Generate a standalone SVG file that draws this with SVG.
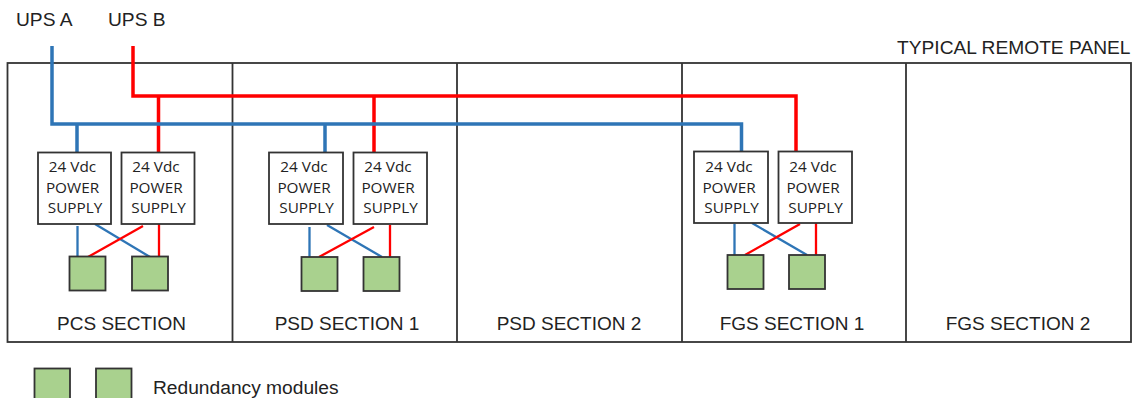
<svg xmlns="http://www.w3.org/2000/svg" width="1137" height="398" viewBox="0 0 1137 398">
<style>
text{font-family:"Liberation Sans",Arial,sans-serif;font-size:19.200px;fill:#222}
.s{text-anchor:middle;font-size:19px}
.p{font-family:"Open Sans","Noto Sans",sans-serif;font-size:15.300px;text-anchor:middle;fill:#222}
.box{fill:#fff;stroke:#333;stroke-width:1.800}
.mod{fill:#a9d18e;stroke:#333;stroke-width:1.800}
.panel{fill:none;stroke:#333;stroke-width:1.800}
.b{fill:none;stroke:#2e75b6}
.r{fill:none;stroke:#f00}
.t{stroke-width:3.500}
.n{stroke-width:2.300}
</style>
<rect width="1137" height="398" fill="#fff"/>
<g id="panel">
<rect class="panel" x="7.500" y="63" width="1123.500" height="279"/>
<path class="panel" d="M232.500 63V342M457 63V342M682 63V342M906 63V342"/>
<text x="1130.500" y="54" text-anchor="end">TYPICAL REMOTE PANEL</text>
<text class="s" x="121.500" y="330">PCS SECTION</text>
<text class="s" x="347" y="330">PSD SECTION 1</text>
<text class="s" x="569" y="330">PSD SECTION 2</text>
<text class="s" x="792" y="330">FGS SECTION 1</text>
<text class="s" x="1018" y="330">FGS SECTION 2</text>
</g>
<g id="ups-a"><text x="16" y="26">UPS A</text></g>
<g id="ups-b"><text x="108" y="26">UPS B</text></g>
<g id="connectors">
<path class="r t" d="M133 46V96H796V152M158.500 96V152M374 96V152"/>
<path class="b t" d="M52 46V124H741.500V152M77 124V152M325 124V152"/>
<path class="b n" d="M77.500 226V257M95 224L150 257"/>
<path class="r n" d="M159 224V257M143 226L88 257"/>
<path class="b n" d="M309.500 227V257M327 225L382 257"/>
<path class="r n" d="M390 225V257M374 227L319 257"/>
<path class="b n" d="M734.500 224V255M752 223L807 255"/>
<path class="r n" d="M816 223V255M800 224L745 255"/>
</g>
<g id="ps-1"><rect class="box" x="38" y="152.500" width="73" height="71.500"/><text class="p" x="72.500" y="172">24 Vdc</text><text class="p" x="72.500" y="193">POWER</text><text class="p" x="75" y="213">SUPPLY</text></g>
<g id="ps-2"><rect class="box" x="121.500" y="152.500" width="73" height="71.500"/><text class="p" x="156" y="172">24 Vdc</text><text class="p" x="156" y="193">POWER</text><text class="p" x="158.500" y="213">SUPPLY</text></g>
<g id="ps-3"><rect class="box" x="269" y="152.500" width="74" height="71.500"/><text class="p" x="304" y="172">24 Vdc</text><text class="p" x="304" y="193">POWER</text><text class="p" x="306.500" y="213">SUPPLY</text></g>
<g id="ps-4"><rect class="box" x="353.500" y="152.500" width="73.500" height="71.500"/><text class="p" x="388" y="172">24 Vdc</text><text class="p" x="388" y="193">POWER</text><text class="p" x="390.500" y="213">SUPPLY</text></g>
<g id="ps-5"><rect class="box" x="694" y="151.500" width="74" height="71.500"/><text class="p" x="729" y="172">24 Vdc</text><text class="p" x="729" y="193">POWER</text><text class="p" x="731.500" y="213">SUPPLY</text></g>
<g id="ps-6"><rect class="box" x="778.500" y="151.500" width="73.500" height="71.500"/><text class="p" x="813" y="172">24 Vdc</text><text class="p" x="813" y="193">POWER</text><text class="p" x="815.500" y="213">SUPPLY</text></g>
<g id="rm-1"><rect class="mod" x="69.500" y="256.500" width="36" height="34"/></g>
<g id="rm-2"><rect class="mod" x="132" y="256.500" width="36" height="34"/></g>
<g id="rm-3"><rect class="mod" x="301.500" y="257" width="36" height="34"/></g>
<g id="rm-4"><rect class="mod" x="363.500" y="257" width="36" height="34"/></g>
<g id="rm-5"><rect class="mod" x="727.500" y="255" width="36" height="34"/></g>
<g id="rm-6"><rect class="mod" x="789" y="255" width="36" height="34"/></g>
<g id="legend"><rect class="mod" x="34.500" y="368.500" width="35.500" height="36"/><rect class="mod" x="96" y="368.500" width="35.500" height="36"/><text x="153" y="394">Redundancy modules</text></g>
</svg>
